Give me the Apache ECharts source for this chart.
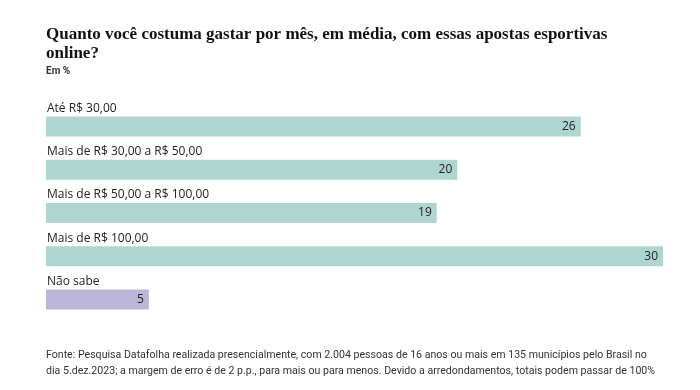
<!DOCTYPE html>
<html><head><meta charset="utf-8">
<script src="https://cdn.jsdelivr.net/npm/echarts@6/dist/echarts.min.js"></script>
<style>html,body{margin:0;padding:0;background:#fff}#c{width:700px;height:390px}</style>
</head><body><div id="c"></div>
<script>
const categories = ['Até R$ 30,00','Mais de R$ 30,00 a R$ 50,00','Mais de R$ 50,00 a R$ 100,00','Mais de R$ 100,00','Não sabe'];
const values = [26, 20, 19, 30, 5];
const barColors = ['#afd5d0','#afd5d0','#afd5d0','#afd5d0','#bbb5da'];
const titleText = 'Quanto você costuma gastar por mês, em média, com essas apostas esportivas\nonline?';
const subtitleText = 'Em %';
const footerText = 'Fonte: Pesquisa Datafolha realizada presencialmente, com 2.004 pessoas de 16 anos ou mais em 135 municípios pelo Brasil no\ndia 5.dez.2023; a margem de erro é de 2 p.p., para mais ou para menos. Devido a arredondamentos, totais podem passar de 100%';

const chart = echarts.init(document.getElementById('c'), null, {renderer:'canvas'});
chart.setOption({
  animation:false,
  title:[
    {text:titleText, left:46, top:25, padding:0, textStyle:{fontFamily:'Liberation Serif', fontWeight:'bold', fontSize:17, color:'#111', lineHeight:19}},
    {text:subtitleText, left:46, top:66, padding:0, textStyle:{fontFamily:'Roboto', fontWeight:'bold', fontSize:10, color:'#333'}},
    {text:footerText, left:46, top:347, padding:0, textStyle:{fontFamily:'Roboto', fontWeight:'normal', fontSize:10.6, color:'#333', lineHeight:16}}
  ],
  grid:{left:46, right:37, top:105, height:216, containLabel:false},
  xAxis:{type:'value', min:0, max:30, show:false},
  yAxis:{type:'category', data:categories, inverse:true,
    axisLine:{show:false}, axisTick:{show:false},
    axisLabel:{inside:true, margin:1, align:'left', verticalAlign:'bottom', padding:[0,0,12,0], fontFamily:'Open Sans', fontSize:12, color:'#222'}
  },
  series:[{type:'bar', data:values.map((v,i)=>({value:v, itemStyle:{color:barColors[i]}})), barWidth:20,
    label:{show:true, position:'insideRight', distance:5, fontFamily:'Open Sans', fontSize:12, color:'#222'}}]
});
</script></body></html>
